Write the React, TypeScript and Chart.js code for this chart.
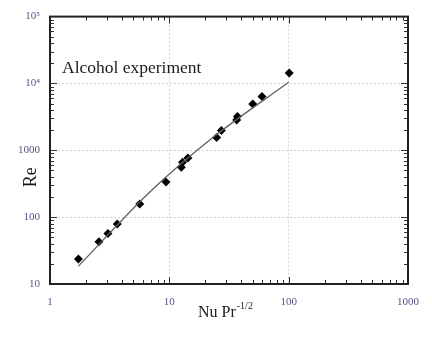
import React, { useEffect, useRef } from "react";
import { Chart, registerables } from "chart.js";

Chart.register(...registerables);

// Measured data (Nu Pr^-1/2 vs Re)
const pointX = [1.73, 2.57, 3.06, 3.66, 5.65, 9.38, 12.6, 12.9, 14.3, 24.9, 27.3, 36.7, 37.2, 50, 59.8, 101];
const pointY = [23.7, 42.9, 57, 79, 157, 336, 560, 664, 769, 1560, 1980, 2850, 3190, 4920, 6370, 14300];

// Fitted curve
const fitX = [1.73, 6.9, 24, 100];
const fitY = [18.5, 240, 1630, 10400];

const xTicks = [1, 10, 100, 1000];
const yTicks = [10, 100, 1000, 10000, 100000];
const yTickLabels = ["10", "100", "1000", "10\u2074", "10\u2075"];

const annotation = "Alcohol experiment";
const annotationY = 16600;
const yTitle = "Re";
const xTitleMain = "Nu Pr";
const xTitleSup = "-1/2";

const SERIF = "'Liberation Serif', 'Times New Roman', serif";

const decorPlugin = {
  id: "decor",
  afterDraw(chart: any) {
    const { ctx, chartArea, scales } = chart;
    const xs = scales.x;
    const ys = scales.y;
    const { left, right, top, bottom } = chartArea;
    ctx.save();
    ctx.strokeStyle = "#333";
    ctx.lineWidth = 1;
    const drawX = (v: number, len: number) => {
      const p = Math.round(xs.getPixelForValue(v)) + 0.5;
      ctx.beginPath();
      ctx.moveTo(p, bottom);
      ctx.lineTo(p, bottom - len);
      ctx.moveTo(p, top);
      ctx.lineTo(p, top + len);
      ctx.stroke();
    };
    const drawY = (v: number, len: number) => {
      const p = Math.round(ys.getPixelForValue(v)) + 0.5;
      ctx.beginPath();
      ctx.moveTo(left, p);
      ctx.lineTo(left + len, p);
      ctx.moveTo(right, p);
      ctx.lineTo(right - len, p);
      ctx.stroke();
    };
    for (let d = 1; d < 1000; d *= 10) {
      drawX(d, 7);
      for (let k = 2; k <= 9; k++) drawX(k * d, 4);
    }
    for (let d = 10; d < 100000; d *= 10) {
      drawY(d, 7);
      for (let k = 2; k <= 9; k++) drawY(k * d, 4);
    }
    ctx.strokeStyle = "#222";
    ctx.lineWidth = 2;
    ctx.strokeRect(left, top, right - left, bottom - top);

    ctx.fillStyle = "#1a1a1a";
    ctx.font = `17.5px ${SERIF}`;
    ctx.textAlign = "left";
    ctx.textBaseline = "middle";
    ctx.fillText(annotation, left + 12, ys.getPixelForValue(annotationY));

    ctx.save();
    ctx.translate(31, (top + bottom) / 2 + 27);
    ctx.rotate(-Math.PI / 2);
    ctx.textAlign = "center";
    ctx.textBaseline = "middle";
    ctx.font = `18px ${SERIF}`;
    ctx.fillText(yTitle, 0, 0);
    ctx.restore();

    ctx.font = `16px ${SERIF}`;
    ctx.textAlign = "left";
    ctx.textBaseline = "alphabetic";
    const xStart = 198;
    const base = 317;
    ctx.fillText(xTitleMain, xStart, base);
    const w = ctx.measureText(xTitleMain).width;
    ctx.font = `10px ${SERIF}`;
    ctx.fillText(xTitleSup, xStart + w + 1, base - 8);
    ctx.restore();
  },
};

export default function App() {
  const ref = useRef<HTMLCanvasElement | null>(null);
  useEffect(() => {
    if (!ref.current) return;
    const chart = new Chart(ref.current, {
      type: "scatter",
      data: {
        datasets: [
          {
            type: "line",
            data: fitX.map((x, i) => ({ x, y: fitY[i] })),
            borderColor: "#606060",
            borderWidth: 1.3,
            pointRadius: 0,
            fill: false,
            cubicInterpolationMode: "monotone",
          } as any,
          {
            data: pointX.map((x, i) => ({ x, y: pointY[i] })),
            pointStyle: "rectRot",
            pointRadius: 4.5,
            backgroundColor: "#000",
            borderColor: "#000",
            borderWidth: 0,
          },
        ],
      },
      plugins: [decorPlugin],
      options: {
        responsive: false,
        animation: false,
        layout: { padding: { top: 14, right: 24, left: 0, bottom: 0 } },
        plugins: { legend: { display: false }, tooltip: { enabled: false } },
        scales: {
          x: {
            type: "logarithmic",
            min: 1,
            max: 1000,
            afterBuildTicks: (s: any) => {
              s.ticks = xTicks.map((v) => ({ value: v }));
            },
            afterFit: (s: any) => {
              s.height = 59;
            },
            ticks: {
              autoSkip: false,
              maxRotation: 0,
              padding: 12,
              color: "#55558a",
              font: { family: SERIF, size: 11 },
              callback: (v: any) => String(v),
            },
            grid: { drawTicks: false, color: "#d2d2d2", lineWidth: 1 },
            border: { display: false, dash: [2, 2] },
          },
          y: {
            type: "logarithmic",
            min: 10,
            max: 100000,
            afterBuildTicks: (s: any) => {
              s.ticks = yTicks.map((v) => ({ value: v }));
            },
            afterFit: (s: any) => {
              s.width = 50;
            },
            ticks: {
              autoSkip: false,
              padding: 10,
              color: "#55558a",
              font: { family: SERIF, size: 11 },
              callback: (v: any) => {
                const i = yTicks.indexOf(Number(v));
                return i >= 0 ? yTickLabels[i] : "";
              },
            },
            grid: { drawTicks: false, color: "#d2d2d2", lineWidth: 1 },
            border: { display: false, dash: [2, 2] },
          },
        },
      },
    } as any);
    return () => chart.destroy();
  }, []);
  return (
    <div style={{ position: "fixed", left: 0, top: 0, width: 432, height: 343, background: "#fff" }}>
      <canvas ref={ref} width={432} height={343} style={{ display: "block" }} />
    </div>
  );
}
